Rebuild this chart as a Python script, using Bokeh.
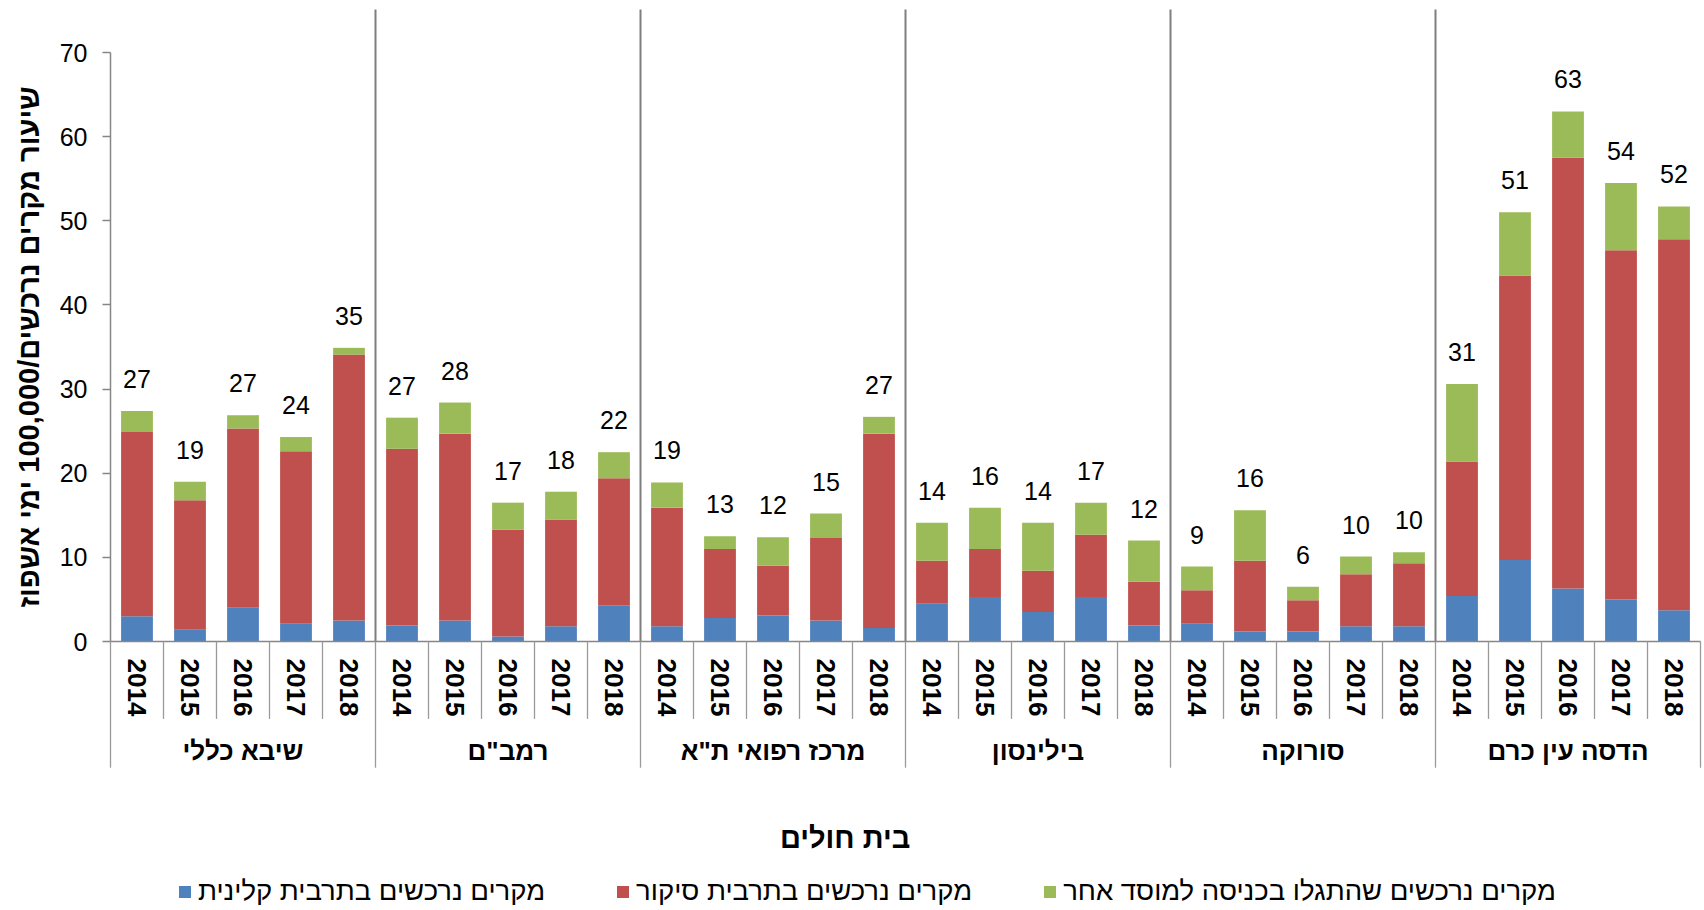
from bokeh.plotting import figure
from bokeh.models import (ColumnDataSource, FactorRange, Range1d, FixedTicker,
                          Legend, LegendItem)
from bokeh.layouts import column
from bokeh.core.properties import value
from bokeh.embed import file_html
from bokeh.resources import INLINE

# ---------------- data ----------------
hospitals = ["שיבא כללי", "רמב\"ם", "מרכז רפואי ת\"א", "בילינסון", "סורוקה", "הדסה עין כרם"]
years = ["2014", "2015", "2016", "2017", "2018"]

# acquired cases in clinical culture (blue)
clinical = [
    3.0, 1.4, 4.0, 2.1, 2.5,
    1.9, 2.5, 0.6, 1.8, 4.3,
    1.8, 2.8, 3.1, 2.5, 1.6,
    4.5, 5.3, 3.5, 5.3, 1.9,
    2.1, 1.2, 1.2, 1.8, 1.8,
    5.4, 9.7, 6.3, 5.0, 3.7,
]
# acquired cases in surveillance culture (red)
surveillance = [
    21.9, 15.4, 21.3, 20.5, 31.6,
    21.0, 22.2, 12.7, 12.7, 15.1,
    14.1, 8.2, 5.9, 9.8, 23.1,
    5.1, 5.7, 4.9, 7.4, 5.2,
    4.0, 8.4, 3.7, 6.2, 7.5,
    16.0, 33.8, 51.2, 41.5, 44.1,
]
# acquired cases found on admission to another institution (green)
other_inst = [
    2.5, 2.2, 1.6, 1.7, 0.8,
    3.7, 3.7, 3.2, 3.3, 3.1,
    3.0, 1.5, 3.4, 2.9, 2.0,
    4.5, 4.9, 5.7, 3.8, 4.9,
    2.8, 6.0, 1.6, 2.1, 1.3,
    9.2, 7.5, 5.5, 8.0, 3.9,
]
total_labels = [
    "27", "19", "27", "24", "35",
    "27", "28", "17", "18", "22",
    "19", "13", "12", "15", "27",
    "14", "16", "14", "17", "12",
    "9", "16", "6", "10", "10",
    "31", "51", "63", "54", "52",
]
series_names = ["מקרים נרכשים בתרבית קלינית", "מקרים נרכשים בתרבית סיקור",
                "מקרים נרכשים שהתגלו בכניסה למוסד אחר"]
colors = ["#4F81BD", "#C0504D", "#9BBB59"]

y_title = "שיעור מקרים נרכשים/100,000 ימי אשפוז"
x_title = "בית חולים"

# --------------------------------------
FONT = "Liberation Sans"
factors = [(h, y) for h in hospitals for y in years]
totals = [a + b + c for a, b, c in zip(clinical, surveillance, other_inst)]

src = ColumnDataSource(dict(x=factors, clin=clinical, surv=surveillance,
                            oth=other_inst, total=totals, label=total_labels))

MAIN_H = 858
p = figure(x_range=FactorRange(*factors, range_padding=0, group_padding=0,
                               factor_padding=0, subgroup_padding=0),
           y_range=Range1d(0, 70),
           width=1704, height=MAIN_H, output_backend="svg", toolbar_location=None,
           min_border_left=110, min_border_right=4, min_border_top=52,
           min_border_bottom=MAIN_H - 641)
p.outline_line_color = None
p.xgrid.grid_line_color = None
p.ygrid.grid_line_color = None
p.background_fill_color = "white"

rs = p.vbar_stack(["clin", "surv", "oth"], x="x", width=0.6, color=colors,
                  line_color=None, source=src)

p.text(x="x", y="total", text="label", source=src, text_align="center",
       text_baseline="middle", y_offset=-32, text_font=value(FONT),
       text_font_size="25px", text_color="black")

# separator lines (category boundaries)
n_y = len(years)
n_f = len(factors)
bx_in, by0_in, by1_in = [], [], []
bx_out, by0_out, by1_out = [], [], []
for k in range(n_f + 1):
    if k % n_y == 0 and 0 < k < n_f:
        bx_in.append(k)
        by0_in.append(0)
        by1_in.append(75.1)
    bx_out.append(k)
    by0_out.append(0)
    by1_out.append(-15.0 if k % n_y == 0 else -9.2)
sep_in = p.segment(x0=bx_in, y0=by0_in, x1=bx_in, y1=by1_in,
                   line_color="#7F7F7F", line_width=2)
sep_in.level = "overlay"
sep_out = p.segment(x0=bx_out, y0=by0_out, x1=bx_out, y1=by1_out,
                    line_color="#9A9A9A", line_width=1.3)
sep_out.level = "overlay"

# y axis
ya = p.yaxis[0]
ya.ticker = FixedTicker(ticks=list(range(0, 71, 10)))
ya.minor_tick_line_color = None
ya.axis_line_color = "#868686"
ya.axis_line_width = 1.5
ya.major_tick_line_color = "#868686"
ya.major_tick_line_width = 1.5
ya.major_tick_out = 8
ya.major_tick_in = 0
ya.major_label_standoff = 15
ya.major_label_text_font = FONT
ya.major_label_text_font_size = "25px"
ya.major_label_text_color = "black"
ya.axis_label = y_title
ya.axis_label_text_font = FONT
ya.axis_label_text_font_size = "29px"
ya.axis_label_text_font_style = "bold"
ya.axis_label_text_color = "black"
ya.axis_label_standoff = 12

# x axis
xa = p.xaxis[0]
xa.axis_line_color = "#868686"
xa.axis_line_width = 1.5
xa.major_tick_line_color = None
xa.major_tick_out = 0
xa.major_tick_in = 0
xa.separator_line_color = None
xa.major_label_orientation = "vertical"
xa.major_label_standoff = 17
xa.major_label_text_font = FONT
xa.major_label_text_font_size = "26px"
xa.major_label_text_font_style = "bold"
xa.major_label_text_color = "black"
xa.group_text_font = FONT
xa.group_text_font_size = "26px"
xa.group_text_font_style = "bold"
xa.group_text_color = "black"
# title sits left of the frame centre in the original: trailing no-break
# spaces (rendered at the visual right) shift the visible words left
xa.axis_label = x_title + "\u00a0" * 15
xa.axis_label_text_font = FONT
xa.axis_label_text_font_size = "29px"
xa.axis_label_text_font_style = "bold"
xa.axis_label_text_color = "black"
xa.axis_label_standoff = 53

# ---- legend strip (separate figure below the chart; frames are aligned) ----
LEG_H = 910 - MAIN_H
q = figure(width=1704, height=LEG_H, output_backend="svg", toolbar_location=None,
           x_range=Range1d(0, 1), y_range=Range1d(0, 1),
           x_axis_type=None, y_axis_type=None,
           min_border_left=0, min_border_right=0, min_border_top=0,
           min_border_bottom=0)
q.outline_line_color = None
# zero-size keys: they only carry the series colours for the legend swatches
key_src = ColumnDataSource(dict(x=[0.5], top=[0.0]))
keys = [q.vbar(x="x", top="top", width=0.0, color=c, line_color=None,
               source=key_src) for c in colors]
legend = Legend(items=[LegendItem(label=n, renderers=[r]) for n, r in zip(series_names, keys)],
                orientation="horizontal", location=(67, 3), padding=0, margin=0,
                spacing=70, glyph_width=15, glyph_height=15, label_standoff=6,
                label_text_font=FONT, label_text_font_size="27.5px",
                label_text_color="black", border_line_color=None,
                background_fill_alpha=0)
q.add_layout(legend)

open("out.html", "w").write(file_html(column(p, q, spacing=0), INLINE))
